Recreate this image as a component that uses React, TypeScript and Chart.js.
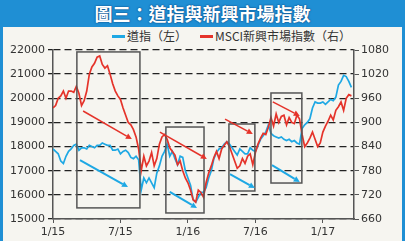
import { useEffect, useRef } from 'react';
import { Chart, registerables } from 'chart.js';
Chart.register(...registerables);

// Weekly readings, week 0 = first week of Jan 2015
const dow = [17900,17800,17700,17400,17300,17600,17800,17900,18050,18100,
17850,17950,17950,17900,18050,18000,17950,18050,18050,18150,
18100,18050,18050,17850,17850,17900,17700,17800,17850,17750,
17550,17500,17600,17450,16200,16700,16500,16700,16500,16300,
16900,17200,17600,17800,18100,17600,17800,17500,17250,17600,
17550,17000,16700,16400,15800,15700,15900,16100,16100,16300,
16700,17000,17500,17750,17900,17950,18100,18200,18100,17950,
17800,17650,17900,17800,17700,17700,17950,17850,17800,18050,
18300,18450,18600,18900,18550,18450,18400,18350,18400,18300,
18250,18300,18200,18250,18150,18100,18750,18900,19000,19150,
19600,19850,19800,19800,19850,19750,19850,19950,19900,20050,
20550,20700,20950,20900,20700,20450];

const msci = [936,942,960,966,978,960,978,978,975,990,
972,942,954,978,1020,1038,1047,1062,1065,1044,
1035,1041,1020,996,978,966,957,936,918,900,
894,882,864,834,780,816,792,804,825,792,
810,846,864,870,858,837,828,819,795,804,
780,762,750,732,708,702,732,726,714,750,
774,792,813,828,810,834,843,852,840,822,
804,786,792,810,798,816,822,795,825,846,
861,873,870,888,912,891,921,900,915,918,
894,912,900,897,918,909,870,840,849,861,
876,858,840,849,876,891,903,918,906,930,
939,951,930,960,969,966];

const tickWeeks = [0, 26, 52, 78, 104];
const tickLabels = ['1/15', '7/15', '1/16', '7/16', '1/17'];

const seriesNames = ['道指（左）', 'MSCI新興市場指數（右）'];

// Annotation boxes [week start, week end, top (left-axis value), bottom]
const boxes = [
  [9.2, 33.5, 21920, 15460],
  [43.5, 58.2, 18810, 15250],
  [67.8, 77.8, 18935, 16160],
  [84, 95.9, 20220, 16490],
];
// Arrows [week0, value0, week1, value1] in left-axis units
const redArrows = [
  [11.6, 19473, 30.4, 18313],
  [41.2, 18600, 59.3, 17485],
  [66.3, 19140, 77, 18520],
  [84.7, 19850, 95.1, 19270],
];
const blueArrows = [
  [10.4, 17443, 28.9, 16325],
  [45, 16120, 55.5, 15455],
  [68.2, 16860, 77.8, 16280],
  [84.4, 17235, 95.1, 16530],
];

const BLUE = '#1ea8e4';
const RED = '#e5332a';

const annotationPlugin = {
  id: 'annot',
  afterDatasetsDraw(chart: any) {
    const { ctx, scales } = chart;
    const xs = scales.x, ys = scales.y;
    ctx.save();
    ctx.strokeStyle = '#555';
    ctx.lineWidth = 1.5;
    boxes.forEach(([a, b, t, btm]) => {
      const x0 = xs.getPixelForValue(a), x1 = xs.getPixelForValue(b);
      const y0 = ys.getPixelForValue(t), y1 = ys.getPixelForValue(btm);
      ctx.strokeRect(x0, y0, x1 - x0, y1 - y0);
    });
    const drawArrow = (arr: number[], color: string, w: number) => {
      const x0 = xs.getPixelForValue(arr[0]), y0 = ys.getPixelForValue(arr[1]);
      const x1 = xs.getPixelForValue(arr[2]), y1 = ys.getPixelForValue(arr[3]);
      const ang = Math.atan2(y1 - y0, x1 - x0);
      const hl = 6, hw = 3;
      const bx = x1 - hl * Math.cos(ang), by = y1 - hl * Math.sin(ang);
      ctx.strokeStyle = color;
      ctx.fillStyle = color;
      ctx.lineWidth = w;
      ctx.beginPath();
      ctx.moveTo(x0, y0);
      ctx.lineTo(bx, by);
      ctx.stroke();
      ctx.beginPath();
      ctx.moveTo(x1, y1);
      ctx.lineTo(bx + hw * Math.sin(ang), by - hw * Math.cos(ang));
      ctx.lineTo(bx - hw * Math.sin(ang), by + hw * Math.cos(ang));
      ctx.closePath();
      ctx.fill();
    };
    redArrows.forEach((a) => drawArrow(a, RED, 1.5));
    blueArrows.forEach((a) => drawArrow(a, BLUE, 2));
    ctx.restore();
  },
};

export default function App() {
  const ref = useRef<HTMLCanvasElement>(null);
  useEffect(() => {
    document.body.style.margin = '0';
    const tickFont = { family: '"DejaVu Sans", sans-serif', size: 11 };
    const plain = (v: any) => String(v);
    const chart = new Chart(ref.current!, {
      type: 'line',
      data: {
        datasets: [
          {
            label: seriesNames[0],
            data: dow.map((v, i) => ({ x: i, y: v })),
            borderColor: BLUE,
            borderWidth: 1.7,
            pointRadius: 0,
            yAxisID: 'y',
            order: 1,
          },
          {
            label: seriesNames[1],
            data: msci.map((v, i) => ({ x: i, y: v })),
            borderColor: RED,
            borderWidth: 1.7,
            pointRadius: 0,
            yAxisID: 'y1',
            order: 0,
          },
        ],
      },
      options: {
        responsive: false,
        animation: false,
        layout: { padding: { top: 23, left: 0, right: 0, bottom: 0 } },
        plugins: { legend: { display: false }, tooltip: { enabled: false } },
        scales: {
          x: {
            type: 'linear',
            min: 0,
            max: 116,
            afterBuildTicks: (s: any) => {
              s.ticks = tickWeeks.map((v) => ({ value: v }));
            },
            afterFit: (s: any) => {
              s.height = 22;
            },
            ticks: {
              autoSkip: false,
              maxRotation: 0,
              font: tickFont,
              color: '#333',
              padding: 3,
              callback: (v: any) => {
                const i = tickWeeks.indexOf(Number(v));
                return i >= 0 ? tickLabels[i] : '';
              },
            },
            grid: { drawOnChartArea: false, tickLength: 4, color: '#555' },
            border: { color: '#555', width: 1.5 },
          },
          y: {
            position: 'left',
            min: 15000,
            max: 22000,
            afterFit: (s: any) => {
              s.width = 50;
            },
            ticks: { stepSize: 1000, font: tickFont, color: '#333', padding: 3, callback: plain },
            grid: { color: '#222', lineWidth: 1.3, tickLength: 5 },
            border: { color: '#555', width: 1.5, dash: [7, 4] },
          },
          y1: {
            position: 'right',
            min: 660,
            max: 1080,
            afterFit: (s: any) => {
              s.width = 48;
            },
            ticks: { stepSize: 60, font: tickFont, color: '#333', padding: 2, callback: plain },
            grid: { drawOnChartArea: false, tickLength: 5, color: '#555' },
            border: { color: '#555', width: 1.5 },
          },
        },
      },
      plugins: [annotationPlugin],
    } as any);
    return () => chart.destroy();
  }, []);

  const legendText = { position: 'absolute' as const, top: 0, fontFamily: '"Noto Sans CJK TC", sans-serif', fontSize: 12, color: '#333', lineHeight: '18px', whiteSpace: 'nowrap' as const };
  return (
    <div style={{ position: 'absolute', left: 0, top: 0, width: 405, height: 241, background: '#1f8fd4', overflow: 'hidden' }}>
      <div style={{ position: 'absolute', left: 0, top: 0, width: 405, height: 27, lineHeight: '27px', textAlign: 'center', color: '#fff', fontFamily: '"Noto Sans CJK TC", sans-serif', fontWeight: 700, fontSize: 18, textShadow: '0 0 2px #0b4a85, 0 0 1px #0b4a85' }}>
        圖三：道指與新興市場指數
      </div>
      <div style={{ position: 'absolute', left: 3, top: 27, width: 399, height: 214, background: '#f6f5f0' }}>
        <div style={{ position: 'absolute', left: 109, top: 8, width: 13, height: 2.5, background: BLUE }} />
        <span style={{ ...legendText, left: 124 }}>{seriesNames[0]}</span>
        <div style={{ position: 'absolute', left: 197, top: 8, width: 13, height: 2.5, background: RED }} />
        <span style={{ ...legendText, left: 212 }}>{seriesNames[1]}</span>
        <canvas ref={ref} width={399} height={214} style={{ display: 'block', width: 399, height: 214, position: 'absolute', left: 0, top: 0 }} />
      </div>
    </div>
  );
}
